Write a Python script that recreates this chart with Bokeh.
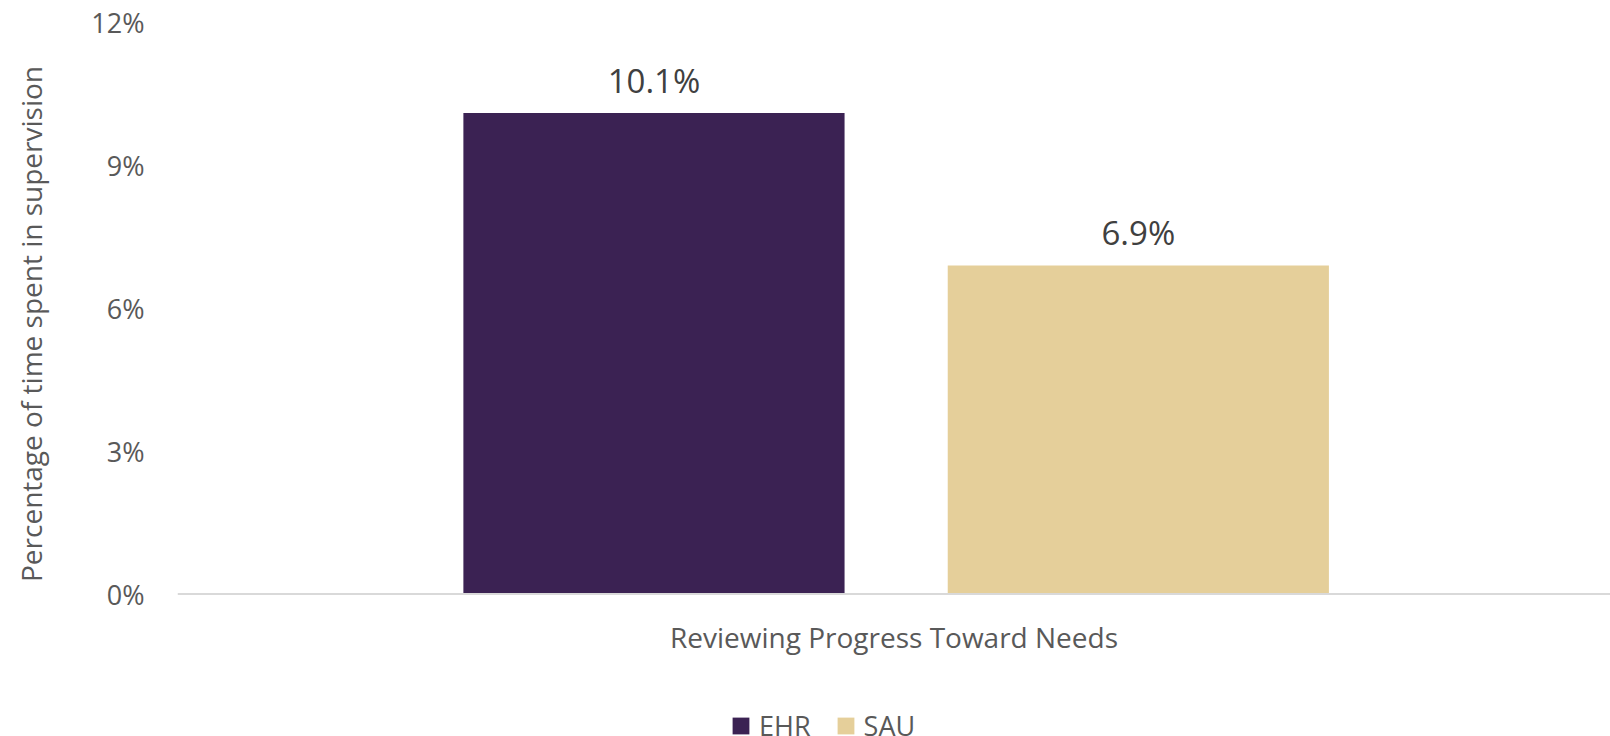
from bokeh.plotting import figure
from bokeh.models import (ColumnDataSource, FactorRange, Range1d, Legend, LegendItem,
                          LabelSet, FixedTicker, CustomJSTickFormatter, Title, Span)
from bokeh.core.properties import value
from bokeh.transform import dodge
from bokeh.embed import file_html
from bokeh.resources import INLINE

categories = ["Reviewing Progress Toward Needs"]
series = ["EHR", "SAU"]
ehr_values = [10.1]
sau_values = [6.9]
y_ticks = [0, 3, 6, 9, 12]
colors = {"EHR": "#3B2253", "SAU": "#E5CF9A"}

FONT = "Open Sans"
TXT = "#595959"

# frame extends below the baseline so the category label and legend sit inside it
PLOT_H = 571.5      # pixels from 12% to 0%
BELOW_H = 142.5     # pixels below the 0% line
y_top = max(y_ticks)
y_bottom = -y_top * BELOW_H / PLOT_H

p = figure(frame_width=1433, frame_height=int(PLOT_H + BELOW_H),
           x_range=FactorRange(*categories, range_padding=0),
           y_range=Range1d(y_bottom, y_top), output_backend="svg", toolbar_location=None,
           min_border_left=177, min_border_right=0, min_border_top=22, min_border_bottom=0)
p.outline_line_color = None
p.xgrid.grid_line_color = None
p.ygrid.grid_line_color = None
p.xaxis.visible = False

src_ehr = ColumnDataSource(dict(cat=categories, val=ehr_values,
                                lab=[f"{v:.1f}%" for v in ehr_values]))
src_sau = ColumnDataSource(dict(cat=categories, val=sau_values,
                                lab=[f"{v:.1f}%" for v in sau_values]))

off_l, off_r = -0.1675, 0.1705
w = 0.266
r1 = p.vbar(x=dodge("cat", off_l, range=p.x_range), top="val", bottom=0, width=w,
            source=src_ehr, fill_color=colors["EHR"], line_color=None)
r2 = p.vbar(x=dodge("cat", off_r, range=p.x_range), top="val", bottom=0, width=w,
            source=src_sau, fill_color=colors["SAU"], line_color=None)

# baseline (category axis line)
p.add_layout(Span(location=0, dimension="width", line_color="#D9D9D9", line_width=2))

for src, o in ((src_ehr, off_l), (src_sau, off_r)):
    ls = LabelSet(x=dodge("cat", o, range=p.x_range), y="val", text="lab", source=src,
                  y_offset=20, text_align="center", text_baseline="alphabetic",
                  text_font=value(FONT), text_font_size=value("33px"),
                  text_color=value("#404040"))
    p.add_layout(ls)

# category label under the baseline
cat_src = ColumnDataSource(dict(cat=categories, base=[0] * len(categories)))
p.text(x="cat", y="base", text="cat", source=cat_src, y_offset=43,
       text_align="center", text_baseline="middle",
       text_font=value(FONT), text_font_size=value("28px"), text_color=TXT)

# y axis
p.yaxis.ticker = FixedTicker(ticks=y_ticks)
p.yaxis.formatter = CustomJSTickFormatter(code="return tick.toFixed(0) + '%';")
p.yaxis.axis_line_color = None
p.yaxis.major_tick_line_color = None
p.yaxis.minor_tick_line_color = None
p.yaxis.major_tick_out = 0
p.yaxis.major_label_standoff = 33
p.yaxis.major_label_text_font = FONT
p.yaxis.major_label_text_font_size = "27px"
p.yaxis.major_label_text_color = TXT

# y-axis title; the second (blank) line pushes the visible line outward
ylab = Title(text="Percentage of time spent in supervision\n\u00a0", align="left",
             offset=BELOW_H + 12,
             text_font=FONT, text_font_size="28px", text_font_style="normal",
             text_color=TXT, standoff=2)
p.add_layout(ylab, "left")

legend = Legend(items=[LegendItem(label="EHR", renderers=[r1]),
                       LegendItem(label="SAU", renderers=[r2])],
                orientation="horizontal", location=(553, -8),
                label_text_font=FONT, label_text_font_size="27px", label_text_color=TXT,
                glyph_width=21, glyph_height=21, label_standoff=8, spacing=24,
                padding=0, margin=0, border_line_color=None, background_fill_alpha=0)
p.add_layout(legend, "center")

open("out.html", "w").write(file_html(p, INLINE))
